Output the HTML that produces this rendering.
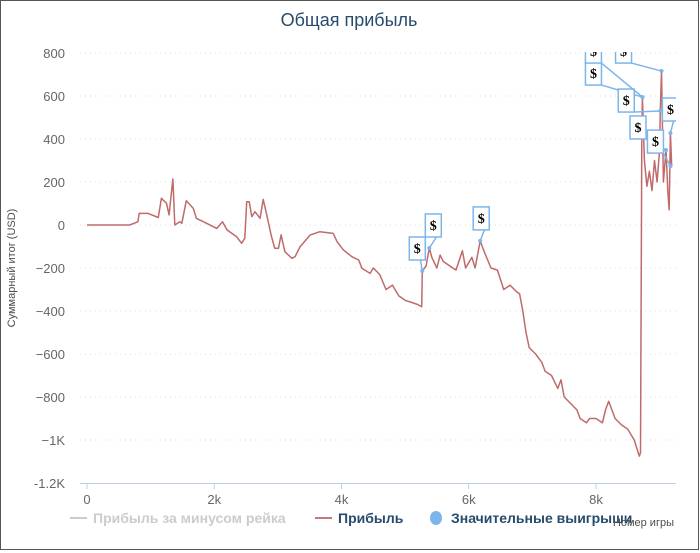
<!DOCTYPE html>
<html><head><meta charset="utf-8">
<style>
html,body{margin:0;padding:0;background:#fff;}
#wrap{position:relative;width:700px;height:553px;overflow:hidden;font-family:"Liberation Sans",sans-serif;}
</style></head>
<body>
<div id="wrap">
<svg id="chart" width="700" height="553" xmlns="http://www.w3.org/2000/svg">
<rect x="0.5" y="0.5" width="698" height="549" fill="#fff" stroke="#555" stroke-width="1"/>
<text x="349" y="26" text-anchor="middle" font-size="18" fill="#274b6d">Общая прибыль</text>
<text transform="translate(15,268) rotate(-90)" text-anchor="middle" font-size="11" fill="#4d4d4d">Суммарный итог (USD)</text>
<g id="grid"></g><g id="yticks"></g><g id="xaxis"></g>
<defs><clipPath id="plotclip"><rect x="80" y="52" width="596" height="437"/></clipPath></defs>
<g id="series" clip-path="url(#plotclip)"></g>
<g id="flags" clip-path="url(#plotclip)"></g>
<g>
<g><line x1="70" y1="518" x2="87" y2="518" stroke="#ccc" stroke-width="2"/><text x="93" y="523" font-size="14" font-weight="bold" fill="#ccc">Прибыль за минусом рейка</text></g>
<g><line x1="315" y1="518" x2="332" y2="518" stroke="#c87878" stroke-width="2"/><text x="338" y="523" font-size="14" font-weight="bold" fill="#274b6d">Прибыль</text></g>
<g><ellipse cx="436" cy="518" rx="6" ry="7" fill="#7cb5ec"/><text x="451" y="523" font-size="14" font-weight="bold" fill="#274b6d">Значительные выигрыши</text></g>
</g>
<text x="674" y="526" text-anchor="end" font-size="11" fill="#4d4d4d">Номер игры</text>
</svg>
</div>
<script>
const yTicks=[800,600,400,200,0,-200,-400,-600,-800,-1000,-1200];
const yTickLabels=["800","600","400","200","0","−200","−400","−600","−800","−1K","-1.2K"];
const xTicks=[0,2000,4000,6000,8000];
const xTickLabels=["0","2k","4k","6k","8k"];
const games=[0,670,800,820,960,1120,1170,1250,1290,1320,1350,1380,1460,1490,1560,1670,1720,1880,2040,2130,2200,2350,2430,2480,2510,2550,2590,2640,2720,2770,2820,2900,2950,3010,3050,3110,3220,3270,3350,3510,3660,3870,3930,4030,4160,4270,4320,4450,4500,4600,4700,4800,4900,5000,5100,5200,5260,5270,5330,5380,5420,5500,5550,5600,5700,5800,5900,5950,6050,6100,6180,6250,6350,6450,6550,6650,6750,6800,6850,6900,6950,7050,7150,7200,7300,7400,7450,7500,7600,7700,7750,7850,7900,8000,8100,8150,8200,8300,8400,8500,8600,8680,8700,8720,8730,8760,8800,8840,8880,8920,8960,9000,9010,9030,9060,9100,9130,9150,9170,9190];
const profit=[0,0,15,54,54,35,124,101,47,132,214,0,15,8,113,77,31,8,-16,15,-23,-54,-85,-62,108,108,39,62,31,119,54,-54,-108,-108,-46,-124,-155,-147,-101,-46,-31,-39,-77,-116,-147,-163,-201,-225,-200,-230,-300,-280,-330,-350,-360,-370,-380,-214,-190,-107,-150,-200,-140,-170,-190,-210,-120,-200,-150,-200,-74,-130,-200,-210,-300,-280,-310,-320,-400,-500,-570,-600,-640,-680,-700,-760,-720,-800,-830,-860,-900,-920,-900,-900,-920,-860,-820,-900,-930,-950,-1000,-1075,-1060,400,595,300,180,250,160,300,200,350,530,716,200,349,150,70,428,274];
const flagGames=[5270,5380,6180,9030,8730,9010,9170,9100,9170,8730];
const flagValues=[-214,-107,-74,716,595,530,428,349,274,595];
const flagDx=[-13,-4,-7,-46,-57,-42,-8,-36,-23,-57];
const flagDy=[-34,-34,-34,-31,-35,-22,-35,-34,-36,-57];

const NS="http://www.w3.org/2000/svg";
const X0=87,X1=596,Y0=483,Y1=53;
function xs(v){return X0+(v/8000)*(X1-X0);}
function ys(v){return Y0+(v+1200)/2000*(Y1-Y0);}
function mk(tag,attrs,parent){const e=document.createElementNS(NS,tag);for(const k in attrs)e.setAttribute(k,attrs[k]);parent.appendChild(e);return e;}
const grid=document.getElementById('grid'),yt=document.getElementById('yticks'),xa=document.getElementById('xaxis');
yTicks.forEach((t,i)=>{
  if(t!==-1200){const l=mk('line',{x1:80,x2:676,y1:ys(t),y2:ys(t),stroke:'#ddd','stroke-dasharray':'1,4'},grid);
  
  }
  const tx=mk('text',{x:65,y:ys(t)+5,'text-anchor':'end','font-size':13,fill:'#666'},yt);
  tx.textContent=yTickLabels[i];
  
  
});
const ax=mk('line',{x1:80,x2:676,y1:Y0+0.5,y2:Y0+0.5,stroke:'#c0d0e0'},xa);


xTicks.forEach((t,i)=>{
  const tk=mk('line',{x1:xs(t),x2:xs(t),y1:Y0,y2:Y0+6,stroke:'#c0d0e0'},xa);
  
  
  const tx=mk('text',{x:xs(t),y:Y0+21,'text-anchor':'middle','font-size':13,fill:'#666'},xa);
  tx.textContent=xTickLabels[i];
  
  
});
const ser=document.getElementById('series');
const d=games.map((g,i)=>(i?'L':'M')+xs(g).toFixed(1)+','+ys(profit[i]).toFixed(1)).join(' ');
const p=mk('path',{d:d,fill:'none',stroke:'#c06a6a','stroke-width':1.5,'stroke-linejoin':'round'},ser);


const fg=document.getElementById('flags');
flagGames.forEach((g,i)=>{
  const px=xs(g),py=ys(flagValues[i]);
  const bx=px+flagDx[i],by=py+flagDy[i],w=16,h=23;
  const ax2=flagDx[i]<-20?bx+w:bx+w*0.7;
  const gg=mk('g',{},fg);
  
  
  mk('line',{x1:ax2,y1:by+h,x2:px,y2:py,stroke:'#7cb5ec','stroke-width':1.5},gg);
  mk('circle',{cx:px,cy:py,r:2,fill:'#7cb5ec'},gg);
  mk('rect',{x:bx,y:by,width:w,height:h,fill:'#fff',stroke:'#7cb5ec','stroke-width':1.5},gg);
  const t=mk('text',{x:bx+w/2,y:by+16,'text-anchor':'middle','font-size':14,'font-family':'Liberation Serif, serif','font-weight':'bold',fill:'#000'},gg);
  t.textContent='$';
});
</script>
</body></html>
